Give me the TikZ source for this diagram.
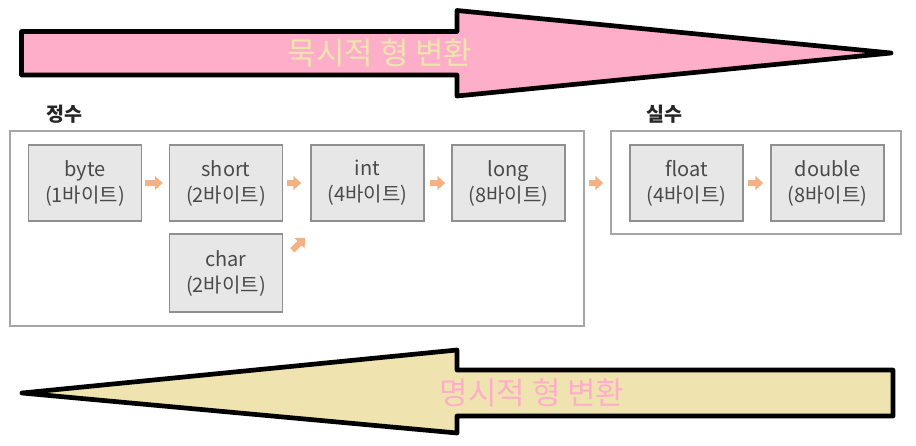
\documentclass[tikz,border=0pt]{standalone}
\usepackage{fontspec}
\setmainfont{Noto Sans CJK KR}
\usetikzlibrary{arrows.meta}
\usetikzlibrary{calc}

\definecolor{pinkfill}{HTML}{FFAEC9}
\definecolor{creamfill}{HTML}{EFE4B0}
\definecolor{boxgray}{HTML}{E7E7E7}
\definecolor{boxline}{HTML}{8F8F8F}
\definecolor{groupline}{HTML}{A6A6A6}
\definecolor{typetext}{HTML}{4A4A4A}
\definecolor{widencolor}{HTML}{F4B183}

\tikzset{
  typebox/.style={draw=boxline, fill=boxgray, line width=1.5pt,
    minimum width=113pt, minimum height=76pt, inner sep=0pt,
    align=center, text=typetext, font=\fontsize{20}{26}\selectfont},
  groupbox/.style={draw=groupline, line width=1.5pt},
  grouplabel/.style={font=\fontsize{19.5}{22}\selectfont\bfseries, text=black!85},
  widen/.style={-{Triangle[length=8pt,width=14pt]}, draw=widencolor, line width=6pt},
  bigarrow/.style={draw=black, line width=4.7pt, line join=round},
  arrowtext/.style={font=\fontsize{31}{31}\selectfont, inner sep=0pt}
}

\begin{document}
\begin{tikzpicture}[x=1pt, y=-1pt]
	\useasboundingbox (0,0) rectangle (916,445);

	% implicit conversion
	\draw[bigarrow, fill=pinkfill] (21.5,31.5) -- (457,31.5) -- (457,10.5) -- (891,53)
		-- (457,96) -- (457,75) -- (21.5,75) -- cycle;
	\node[arrowtext, text=creamfill] (implicit) at (380,53) {묵시적 형 변환};

	% explicit conversion
	\draw[bigarrow, fill=creamfill] (22,393) -- (457,350) -- (457,370) -- (893,370)
		-- (893,416) -- (457,416) -- (457,433) -- cycle;
	\node[arrowtext, text=pinkfill] (explicit) at (532,393) {명시적 형 변환};

	% groups
	\draw[groupbox] (10,131) rectangle (584,326);
	\draw[groupbox] (611,131) rectangle (901,234);
	\node[grouplabel] (intlabel) at (64,114) {정수};
	\node[grouplabel] (reallabel) at (664,114) {실수};

	\begin{scope}[every node/.style={typebox}]
		\node (byte) at (85,183) {byte\\(1바이트)};
		\node (short) at (226,183) {short\\(2바이트)};
		\node (int) at (367.5,183) {int\\(4바이트)};
		\node (long) at (508.5,183) {long\\(8바이트)};
		\node[minimum height=78pt] (char) at (226,273) {char\\(2바이트)};
		\node (float) at (686.5,183) {float\\(4바이트)};
		\node (double) at (827.5,183) {double\\(8바이트)};
	\end{scope}

	\coordinate (charout) at ($(char.north east)+(9,17)$);
	\coordinate (intin) at ($(int.south west)+(-5,16)$);

	\begin{scope}[every path/.style={widen}]
		\draw[shorten <=3pt, shorten >=6pt] (byte) -- (short);
		\draw[shorten <=4pt, shorten >=9pt] (short) -- (int);
		\draw[shorten <=5pt, shorten >=6pt] (int) -- (long);
		\draw[shorten <=23pt, shorten >=26pt] (long) -- (float);
		\draw[shorten <=4pt, shorten >=7pt] (float) -- (double);
		\draw (charout) -- (intin);
	\end{scope}
\end{tikzpicture}
\end{document}
